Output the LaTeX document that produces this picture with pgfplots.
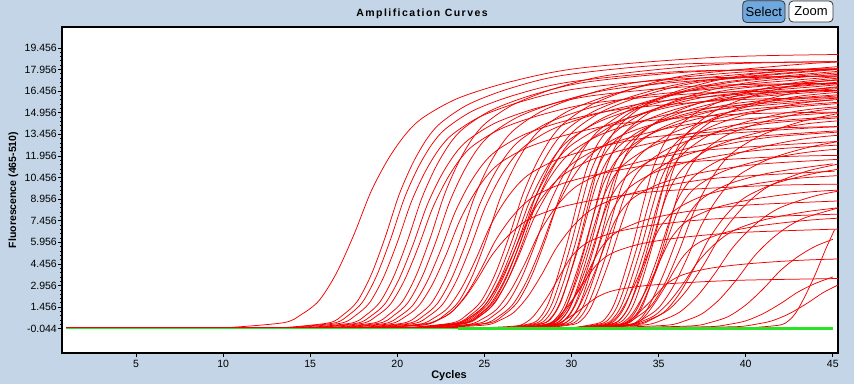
\documentclass[border=0pt]{standalone}
\usepackage{fontspec}
\setmainfont{Liberation Sans}
\newfontfamily\titlefont[LetterSpace=14]{Liberation Sans}
\usepackage{pgfplots}
\pgfplotsset{compat=1.18}
\definecolor{bgc}{RGB}{195,213,230}
\definecolor{rc}{RGB}{240,0,0}
\definecolor{gc}{RGB}{40,228,40}
\definecolor{selc}{RGB}{110,168,222}
\tikzset{r/.style={rc, line width=0.75pt, smooth}}
\begin{document}
\begin{tikzpicture}[x=1pt,y=1pt]
\fill[bgc] (-62,-31) rectangle (792,353);
\begin{axis}[at={(0,0)}, anchor=south west, scale only axis, width=776pt, height=326pt,
 xmin=0.75, xmax=45.3, ymin=-1.73, ymax=20.9,
 axis background/.style={fill=white},
 axis line style={line width=1.2pt},
 tick align=outside, xtick pos=bottom, ytick pos=left,
 major tick length=4pt, minor tick length=2pt,
 tick style={black, line width=0.6pt},
 xtick={5,10,15,20,25,30,35,40,45},
 xticklabels={5,10,15,20,25,30,35,40,45},
 ytick={-0.044,1.456,2.956,4.456,5.956,7.456,8.956,10.456,11.956,13.456,14.956,16.456,17.956,19.456},
 yticklabels={-0.044,1.456,2.956,4.456,5.956,7.456,8.956,10.456,11.956,13.456,14.956,16.456,17.956,19.456},
 minor y tick num=4,
 ticklabel style={font=\fontsize{10.5}{12}\selectfont, text=black},
 yticklabel style={inner xsep=1pt},
]
\addplot[rc, line width=0.75pt] coordinates {(1,.05)(45,.05)};
% early
\addplot[r] coordinates {(10.5,.05)(13.5,.38)(14.5,.95)(15.5,1.9)(16.5,3.8)(17.5,6.46)(18.5,9.5)(19.5,11.78)(20.5,13.49)(21.5,14.63)(23.5,15.96)(26.5,17.1)(30.5,18.05)(38.5,18.81)(46,19)};
\addplot[r] coordinates {(13.7,.05)(16.1,.37)(16.9,.93)(17.7,1.85)(18.5,3.7)(19.3,6.29)(20.1,9.25)(20.9,11.47)(21.7,13.14)(22.5,14.25)(24.1,15.54)(26.5,16.65)(29.7,17.58)(36.1,18.32)(46,18.5)};
\addplot[r] coordinates {(14,.05)(16.4,.36)(17.2,.9)(18,1.8)(18.8,3.6)(19.6,6.12)(20.4,9)(21.2,11.16)(22,12.78)(22.8,13.86)(24.4,15.12)(26.8,16.2)(30,17.1)(36.4,17.82)(46,18)};
\addplot[r] coordinates {(14.4,.05)(16.8,.35)(17.6,.88)(18.4,1.75)(19.2,3.5)(20,5.95)(20.8,8.75)(21.6,10.85)(22.4,12.43)(23.2,13.48)(24.8,14.7)(27.2,15.75)(30.4,16.63)(36.8,17.33)(46,17.5)};
\addplot[r] coordinates {(15,.05)(17.4,.36)(18.2,.9)(19,1.8)(19.8,3.6)(20.6,6.12)(21.4,9)(22.2,11.16)(23,12.78)(23.8,13.86)(25.4,15.12)(27.8,16.2)(31,17.1)(37.4,17.82)(46,18)};
\addplot[r] coordinates {(15.3,.05)(17.7,.34)(18.5,.85)(19.3,1.7)(20.1,3.4)(20.9,5.78)(21.7,8.5)(22.5,10.54)(23.3,12.07)(24.1,13.09)(25.7,14.28)(28.1,15.3)(31.3,16.15)(37.7,16.83)(46,17)};
\addplot[r] coordinates {(15.6,.05)(18,.33)(18.8,.83)(19.6,1.65)(20.4,3.3)(21.2,5.61)(22,8.25)(22.8,10.23)(23.6,11.72)(24.4,12.71)(26,13.86)(28.4,14.85)(31.6,15.68)(38,16.34)(46,16.5)};
\addplot[r] coordinates {(16.3,.05)(18.7,.37)(19.5,.93)(20.3,1.85)(21.1,3.7)(21.9,6.29)(22.7,9.25)(23.5,11.47)(24.3,13.14)(25.1,14.25)(26.7,15.54)(29.1,16.65)(32.3,17.58)(38.7,18.32)(46,18.5)};
\addplot[r] coordinates {(16.6,.05)(19,.35)(19.8,.88)(20.6,1.75)(21.4,3.5)(22.2,5.95)(23,8.75)(23.8,10.85)(24.6,12.43)(25.4,13.48)(27,14.7)(29.4,15.75)(32.6,16.63)(39,17.33)(46,17.5)};
\addplot[r] coordinates {(16.9,.05)(19.3,.32)(20.1,.8)(20.9,1.6)(21.7,3.2)(22.5,5.44)(23.3,8)(24.1,9.92)(24.9,11.36)(25.7,12.32)(27.3,13.44)(29.7,14.4)(32.9,15.2)(39.3,15.84)(46,16)};
\addplot[r] coordinates {(17.2,.05)(19.6,.3)(20.4,.75)(21.2,1.5)(22,3)(22.8,5.1)(23.6,7.5)(24.4,9.3)(25.2,10.65)(26,11.55)(27.6,12.6)(30,13.5)(33.2,14.25)(39.6,14.85)(46,15)};
\addplot[r] coordinates {(18,.05)(20.4,.36)(21.2,.9)(22,1.8)(22.8,3.6)(23.6,6.12)(24.4,9)(25.2,11.16)(26,12.78)(26.8,13.86)(28.4,15.12)(30.8,16.2)(34,17.1)(40.4,17.82)(46,18)};
\addplot[r] coordinates {(18.3,.05)(20.7,.34)(21.5,.85)(22.3,1.7)(23.1,3.4)(23.9,5.78)(24.7,8.5)(25.5,10.54)(26.3,12.07)(27.1,13.09)(28.7,14.28)(31.1,15.3)(34.3,16.15)(40.7,16.83)(46,17)};
\addplot[r] coordinates {(18.6,.05)(21,.33)(21.8,.83)(22.6,1.65)(23.4,3.3)(24.2,5.61)(25,8.25)(25.8,10.23)(26.6,11.72)(27.4,12.71)(29,13.86)(31.4,14.85)(34.6,15.68)(41,16.34)(46,16.5)};
\addplot[r] coordinates {(18.9,.05)(21.3,.28)(22.1,.7)(22.9,1.4)(23.7,2.8)(24.5,4.76)(25.3,7)(26.1,8.68)(26.9,9.94)(27.7,10.78)(29.3,11.76)(31.7,12.6)(34.9,13.3)(41.3,13.86)(46,14)};
\addplot[r] coordinates {(19.2,.05)(21.6,.24)(22.4,.6)(23.2,1.2)(24,2.4)(24.8,4.08)(25.6,6)(26.4,7.44)(27.2,8.52)(28,9.24)(29.6,10.08)(32,10.8)(35.2,11.4)(41.6,11.88)(46,12)};
\addplot[r] coordinates {(19.5,.05)(21.9,.36)(22.7,.9)(23.5,1.8)(24.3,3.6)(25.1,6.12)(25.9,9)(26.7,11.16)(27.5,12.78)(28.3,13.86)(29.9,15.12)(32.3,16.2)(35.5,17.1)(41.9,17.82)(46,18)};
\addplot[r] coordinates {(19,.05)(21.4,.2)(22.2,.5)(23,1)(23.8,2)(24.6,3.4)(25.4,5)(26.2,6.2)(27,7.1)(27.8,7.7)(29.4,8.4)(31.8,9)(35,9.5)(41.4,9.9)(46,10)};
% group around 27-29
\addplot[r] coordinates {(20.8,.05)(23.2,.37)(24,.93)(24.8,1.85)(25.6,3.7)(26.4,6.29)(27.2,9.25)(28,11.47)(28.8,13.14)(29.6,14.25)(31.2,15.54)(33.6,16.65)(36.8,17.58)(43.2,18.32)(46,18.5)};
\addplot[r] coordinates {(21,.05)(23.4,.36)(24.2,.9)(25,1.8)(25.8,3.6)(26.6,6.12)(27.4,9)(28.2,11.16)(29,12.78)(29.8,13.86)(31.4,15.12)(33.8,16.2)(37,17.1)(43.4,17.82)(46,18)};
\addplot[r] coordinates {(21.1,.05)(23.5,.34)(24.3,.85)(25.1,1.7)(25.9,3.4)(26.7,5.78)(27.5,8.5)(28.3,10.54)(29.1,12.07)(29.9,13.09)(31.5,14.28)(33.9,15.3)(37.1,16.15)(43.5,16.83)(46,17)};
\addplot[r] coordinates {(21.2,.05)(23.6,.33)(24.4,.83)(25.2,1.65)(26,3.3)(26.8,5.61)(27.6,8.25)(28.4,10.23)(29.2,11.72)(30,12.71)(31.6,13.86)(34,14.85)(37.2,15.68)(43.6,16.34)(46,16.5)};
\addplot[r] coordinates {(21.3,.05)(23.7,.32)(24.5,.8)(25.3,1.6)(26.1,3.2)(26.9,5.44)(27.7,8)(28.5,9.92)(29.3,11.36)(30.1,12.32)(31.7,13.44)(34.1,14.4)(37.3,15.2)(43.7,15.84)(46,16)};
\addplot[r] coordinates {(21.4,.05)(23.8,.3)(24.6,.75)(25.4,1.5)(26.2,3)(27,5.1)(27.8,7.5)(28.6,9.3)(29.4,10.65)(30.2,11.55)(31.8,12.6)(34.2,13.5)(37.4,14.25)(43.8,14.85)(46,15)};
\addplot[r] coordinates {(21.5,.05)(23.9,.36)(24.7,.9)(25.5,1.8)(26.3,3.6)(27.1,6.12)(27.9,9)(28.7,11.16)(29.5,12.78)(30.3,13.86)(31.9,15.12)(34.3,16.2)(37.5,17.1)(43.9,17.82)(46,18)};
\addplot[r] coordinates {(21.6,.05)(24,.35)(24.8,.88)(25.6,1.75)(26.4,3.5)(27.2,5.95)(28,8.75)(28.8,10.85)(29.6,12.43)(30.4,13.48)(32,14.7)(34.4,15.75)(37.6,16.63)(44,17.33)(46,17.5)};
\addplot[r] coordinates {(20.9,.05)(23.3,.28)(24.1,.7)(24.9,1.4)(25.7,2.8)(26.5,4.76)(27.3,7)(28.1,8.68)(28.9,9.94)(29.7,10.78)(31.3,11.76)(33.7,12.6)(36.9,13.3)(43.3,13.86)(46,14)};
\addplot[r] coordinates {(21.7,.05)(24.1,.26)(24.9,.65)(25.7,1.3)(26.5,2.6)(27.3,4.42)(28.1,6.5)(28.9,8.06)(29.7,9.23)(30.5,10.01)(32.1,10.92)(34.5,11.7)(37.7,12.35)(44.1,12.87)(46,13)};
\addplot[r] coordinates {(22.3,.05)(24.7,.34)(25.5,.85)(26.3,1.7)(27.1,3.4)(27.9,5.78)(28.7,8.5)(29.5,10.54)(30.3,12.07)(31.1,13.09)(32.7,14.28)(35.1,15.3)(38.3,16.15)(44.7,16.83)(46,17)};
\addplot[r] coordinates {(22.6,.05)(25,.32)(25.8,.8)(26.6,1.6)(27.4,3.2)(28.2,5.44)(29,8)(29.8,9.92)(30.6,11.36)(31.4,12.32)(33,13.44)(35.4,14.4)(38.6,15.2)(45,15.84)};
\addplot[r] coordinates {(22.9,.05)(25.3,.36)(26.1,.9)(26.9,1.8)(27.7,3.6)(28.5,6.12)(29.3,9)(30.1,11.16)(30.9,12.78)(31.7,13.86)(33.3,15.12)(35.7,16.2)(38.9,17.1)(45.3,17.82)};
\addplot[r] coordinates {(22.7,.05)(25.1,.22)(25.9,.55)(26.7,1.1)(27.5,2.2)(28.3,3.74)(29.1,5.5)(29.9,6.82)(30.7,7.81)(31.5,8.47)(33.1,9.24)(35.5,9.9)(38.7,10.45)(45.1,10.89)};
% dense group around 30-33
\addplot[r] coordinates {(26.4,.05)(27.8,.36)(28.3,.9)(28.7,1.8)(29.2,3.6)(29.8,6.12)(30.4,9)(30.9,11.16)(31.5,12.78)(32.2,13.86)(33.6,15.12)(35.9,16.2)(39.4,17.1)(46.4,17.82)};
\addplot[r] coordinates {(26.6,.05)(28,.35)(28.5,.88)(28.9,1.75)(29.4,3.5)(30,5.95)(30.6,8.75)(31.1,10.85)(31.7,12.43)(32.4,13.48)(33.8,14.7)(36.1,15.75)(39.6,16.63)(46.6,17.33)};
\addplot[r] coordinates {(26.8,.05)(28.2,.34)(28.7,.85)(29.1,1.7)(29.6,3.4)(30.2,5.78)(30.8,8.5)(31.3,10.54)(31.9,12.07)(32.6,13.09)(34,14.28)(36.3,15.3)(39.8,16.15)(46.8,16.83)};
\addplot[r] coordinates {(27,.05)(28.4,.33)(28.9,.83)(29.3,1.65)(29.8,3.3)(30.4,5.61)(31,8.25)(31.5,10.23)(32.1,11.72)(32.8,12.71)(34.2,13.86)(36.5,14.85)(40,15.68)(47,16.34)};
\addplot[r] coordinates {(27.1,.05)(28.5,.37)(29,.93)(29.4,1.85)(29.9,3.7)(30.5,6.29)(31.1,9.25)(31.6,11.47)(32.2,13.14)(32.9,14.25)(34.3,15.54)(36.6,16.65)(40.1,17.58)(47.1,18.32)};
\addplot[r] coordinates {(27.3,.05)(28.7,.32)(29.2,.8)(29.6,1.6)(30.1,3.2)(30.7,5.44)(31.3,8)(31.8,9.92)(32.4,11.36)(33.1,12.32)(34.5,13.44)(36.8,14.4)(40.3,15.2)(47.3,15.84)};
\addplot[r] coordinates {(27.4,.05)(28.8,.3)(29.3,.75)(29.7,1.5)(30.2,3)(30.8,5.1)(31.4,7.5)(31.9,9.3)(32.5,10.65)(33.2,11.55)(34.6,12.6)(36.9,13.5)(40.4,14.25)(47.4,14.85)};
\addplot[r] coordinates {(27.5,.05)(28.9,.36)(29.4,.9)(29.8,1.8)(30.3,3.6)(30.9,6.12)(31.5,9)(32,11.16)(32.6,12.78)(33.3,13.86)(34.7,15.12)(37,16.2)(40.5,17.1)(47.5,17.82)};
\addplot[r] coordinates {(27.6,.05)(29,.28)(29.5,.7)(29.9,1.4)(30.4,2.8)(31,4.76)(31.6,7)(32.1,8.68)(32.7,9.94)(33.4,10.78)(34.8,11.76)(37.1,12.6)(40.6,13.3)(47.6,13.86)};
\addplot[r] coordinates {(27.7,.05)(29.1,.34)(29.6,.85)(30,1.7)(30.5,3.4)(31.1,5.78)(31.7,8.5)(32.2,10.54)(32.8,12.07)(33.5,13.09)(34.9,14.28)(37.2,15.3)(40.7,16.15)(47.7,16.83)};
\addplot[r] coordinates {(27.8,.05)(29.2,.26)(29.7,.65)(30.1,1.3)(30.6,2.6)(31.2,4.42)(31.8,6.5)(32.3,8.06)(32.9,9.23)(33.6,10.01)(35,10.92)(37.3,11.7)(40.8,12.35)(47.8,12.87)};
\addplot[r] coordinates {(27.9,.05)(29.3,.33)(29.8,.83)(30.2,1.65)(30.7,3.3)(31.3,5.61)(31.9,8.25)(32.4,10.23)(33,11.72)(33.7,12.71)(35.1,13.86)(37.4,14.85)(40.9,15.68)(47.9,16.34)};
\addplot[r] coordinates {(28,.05)(29.4,.24)(29.9,.6)(30.3,1.2)(30.8,2.4)(31.4,4.08)(32,6)(32.5,7.44)(33.1,8.52)(33.8,9.24)(35.2,10.08)(37.5,10.8)(41,11.4)(48,11.88)};
\addplot[r] coordinates {(28.2,.05)(29.6,.35)(30.1,.88)(30.5,1.75)(31,3.5)(31.6,5.95)(32.2,8.75)(32.7,10.85)(33.3,12.43)(34,13.48)(35.4,14.7)(37.7,15.75)(41.2,16.63)(48.2,17.33)};
\addplot[r] coordinates {(28.4,.05)(29.8,.32)(30.3,.8)(30.7,1.6)(31.2,3.2)(31.8,5.44)(32.4,8)(32.9,9.92)(33.5,11.36)(34.2,12.32)(35.6,13.44)(37.9,14.4)(41.4,15.2)(48.4,15.84)};
\addplot[r] coordinates {(28.6,.05)(30,.3)(30.5,.75)(30.9,1.5)(31.4,3)(32,5.1)(32.6,7.5)(33.1,9.3)(33.7,10.65)(34.4,11.55)(35.8,12.6)(38.1,13.5)(41.6,14.25)(48.6,14.85)};
\addplot[r] coordinates {(28.8,.05)(30.2,.28)(30.7,.7)(31.1,1.4)(31.6,2.8)(32.2,4.76)(32.8,7)(33.3,8.68)(33.9,9.94)(34.6,10.78)(36,11.76)(38.3,12.6)(41.8,13.3)(48.8,13.86)};
\addplot[r] coordinates {(27.2,.05)(28.6,.18)(29.1,.45)(29.5,.9)(30,1.8)(30.6,3.06)(31.2,4.5)(31.7,5.58)(32.3,6.39)(33,6.93)(34.4,7.56)(36.7,8.1)(40.2,8.55)(47.2,8.91)};
\addplot[r] coordinates {(26.9,.05)(28.3,.14)(28.8,.35)(29.2,.7)(29.7,1.4)(30.3,2.38)(30.9,3.5)(31.4,4.34)(32,4.97)(32.7,5.39)(34.1,5.88)(36.4,6.3)(39.9,6.65)(46.9,6.93)};
% group around 34-36
\addplot[r] coordinates {(30.2,.05)(31.6,.36)(32.1,.9)(32.5,1.8)(33,3.6)(33.6,6.12)(34.2,9)(34.7,11.16)(35.3,12.78)(36,13.86)(37.4,15.12)(39.7,16.2)(43.2,17.1)(50.2,17.82)};
\addplot[r] coordinates {(30.4,.05)(31.8,.34)(32.3,.85)(32.7,1.7)(33.2,3.4)(33.8,5.78)(34.4,8.5)(34.9,10.54)(35.5,12.07)(36.2,13.09)(37.6,14.28)(39.9,15.3)(43.4,16.15)(50.4,16.83)};
\addplot[r] coordinates {(30.6,.05)(32,.33)(32.5,.83)(32.9,1.65)(33.4,3.3)(34,5.61)(34.6,8.25)(35.1,10.23)(35.7,11.72)(36.4,12.71)(37.8,13.86)(40.1,14.85)(43.6,15.68)(50.6,16.34)};
\addplot[r] coordinates {(30.8,.05)(32.2,.32)(32.7,.8)(33.1,1.6)(33.6,3.2)(34.2,5.44)(34.8,8)(35.3,9.92)(35.9,11.36)(36.6,12.32)(38,13.44)(40.3,14.4)(43.8,15.2)(50.8,15.84)};
\addplot[r] coordinates {(31,.05)(32.4,.3)(32.9,.75)(33.3,1.5)(33.8,3)(34.4,5.1)(35,7.5)(35.5,9.3)(36.1,10.65)(36.8,11.55)(38.2,12.6)(40.5,13.5)(44,14.25)(51,14.85)};
\addplot[r] coordinates {(31.1,.05)(32.5,.36)(33,.9)(33.4,1.8)(33.9,3.6)(34.5,6.12)(35.1,9)(35.6,11.16)(36.2,12.78)(36.9,13.86)(38.3,15.12)(40.6,16.2)(44.1,17.1)(51.1,17.82)};
\addplot[r] coordinates {(31.3,.05)(32.7,.35)(33.2,.88)(33.6,1.75)(34.1,3.5)(34.7,5.95)(35.3,8.75)(35.8,10.85)(36.4,12.43)(37.1,13.48)(38.5,14.7)(40.8,15.75)(44.3,16.63)(51.3,17.33)};
\addplot[r] coordinates {(31.5,.05)(32.9,.28)(33.4,.7)(33.8,1.4)(34.3,2.8)(34.9,4.76)(35.5,7)(36,8.68)(36.6,9.94)(37.3,10.78)(38.7,11.76)(41,12.6)(44.5,13.3)(51.5,13.86)};
\addplot[r] coordinates {(31.6,.05)(33,.26)(33.5,.65)(33.9,1.3)(34.4,2.6)(35,4.42)(35.6,6.5)(36.1,8.06)(36.7,9.23)(37.4,10.01)(38.8,10.92)(41.1,11.7)(44.6,12.35)(51.6,12.87)};
\addplot[r] coordinates {(31.8,.05)(33.2,.32)(33.7,.8)(34.1,1.6)(34.6,3.2)(35.2,5.44)(35.8,8)(36.3,9.92)(36.9,11.36)(37.6,12.32)(39,13.44)(41.3,14.4)(44.8,15.2)(51.8,15.84)};
\addplot[r] coordinates {(32,.05)(33.4,.24)(33.9,.6)(34.3,1.2)(34.8,2.4)(35.4,4.08)(36,6)(36.5,7.44)(37.1,8.52)(37.8,9.24)(39.2,10.08)(41.5,10.8)(45,11.4)};
\addplot[r] coordinates {(30.5,.05)(31.9,.22)(32.4,.55)(32.8,1.1)(33.3,2.2)(33.9,3.74)(34.5,5.5)(35,6.82)(35.6,7.81)(36.3,8.47)(37.7,9.24)(40,9.9)(43.5,10.45)(50.5,10.89)};
\addplot[r] coordinates {(31.2,.05)(32.6,.2)(33.1,.5)(33.5,1)(34,2)(34.6,3.4)(35.2,5)(35.7,6.2)(36.3,7.1)(37,7.7)(38.4,8.4)(40.7,9)(44.2,9.5)(51.2,9.9)};
\addplot[r] coordinates {(31.9,.05)(33.3,.16)(33.8,.4)(34.2,.8)(34.7,1.6)(35.3,2.72)(35.9,4)(36.4,4.96)(37,5.68)(37.7,6.16)(39.1,6.72)(41.4,7.2)(44.9,7.6)(51.9,7.92)};
% late
\addplot[r] coordinates {(30.6,.05)(33,.32)(33.8,.8)(34.6,1.6)(35.4,3.2)(36.2,5.44)(37,8)(37.8,9.92)(38.6,11.36)(39.4,12.32)(41,13.44)(43.4,14.4)(46.6,15.2)};
\addplot[r] coordinates {(31,.05)(33.4,.28)(34.2,.7)(35,1.4)(35.8,2.8)(36.6,4.76)(37.4,7)(38.2,8.68)(39,9.94)(39.8,10.78)(41.4,11.76)(43.8,12.6)(47,13.3)};
\addplot[r] coordinates {(31.4,.05)(33.8,.24)(34.6,.6)(35.4,1.2)(36.2,2.4)(37,4.08)(37.8,6)(38.6,7.44)(39.4,8.52)(40.2,9.24)(41.8,10.08)(44.2,10.8)(47.4,11.4)};
\addplot[r] coordinates {(30.8,.05)(33.2,.18)(34,.45)(34.8,.9)(35.6,1.8)(36.4,3.06)(37.2,4.5)(38,5.58)(38.8,6.39)(39.6,6.93)(41.2,7.56)(43.6,8.1)(46.8,8.55)};
\addplot[r] coordinates {(30.6,.05)(33.6,.26)(34.6,.65)(35.6,1.3)(36.6,2.6)(37.6,4.42)(38.6,6.5)(39.6,8.06)(40.6,9.23)(41.6,10.01)(43.6,10.92)(46.6,11.7)};
\addplot[r] coordinates {(31.2,.05)(34.2,.22)(35.2,.55)(36.2,1.1)(37.2,2.2)(38.2,3.74)(39.2,5.5)(40.2,6.82)(41.2,7.81)(42.2,8.47)(44.2,9.24)(47.2,9.9)};
\addplot[r] coordinates {(32.5,.05)(35.5,.2)(36.5,.5)(37.5,1)(38.5,2)(39.5,3.4)(40.5,5)(41.5,6.2)(42.5,7.1)(43.5,7.7)(45.5,8.4)};
\addplot[r] coordinates {(34,.05)(37,.16)(38,.4)(39,.8)(40,1.6)(41,2.72)(42,4)(43,4.96)(44,5.68)(45,6.16)};
\addplot[r] coordinates {(40.6,.05)(42,.22)(42.5,.55)(42.9,1.1)(43.4,2.2)(44,3.74)(44.6,5.5)(45.1,6.82)};
\addplot[r] coordinates {(35,.05)(38,.1)(39,.25)(40,.5)(41,1)(42,1.7)(43,2.5)(44,3.1)(45,3.55)};
\addplot[r] coordinates {(36.5,.05)(39.5,.1)(40.5,.25)(41.5,.5)(42.5,1)(43.5,1.7)(44.5,2.5)(45.5,3.1)};
% low plateaus
\addplot[r] coordinates {(27,.05)(28.4,.07)(28.9,.18)(29.3,.35)(29.8,.7)(30.4,1.19)(31,1.75)(31.5,2.17)(32.1,2.49)(32.8,2.7)(34.2,2.94)(36.5,3.15)(40,3.33)(47,3.47)};
\addplot[r] coordinates {(31,.05)(32.4,.1)(32.9,.25)(33.3,.5)(33.8,1)(34.4,1.7)(35,2.5)(35.5,3.1)(36.1,3.55)(36.8,3.85)(38.2,4.2)(40.5,4.5)(44,4.75)(51,4.95)};
\addplot[r] coordinates {(25.5,.05)(26.9,.16)(27.4,.4)(27.8,.8)(28.3,1.6)(28.9,2.72)(29.5,4)(30,4.96)(30.6,5.68)(31.3,6.16)(32.7,6.72)(35,7.2)(38.5,7.6)(45.5,7.92)};
% negative control
\addplot[gc, line width=1.5pt] coordinates {(1,-0.044)(45,-0.044)};
\addplot[gc, line width=3.5pt] coordinates {(23.5,-0.044)(45,-0.044)};
\end{axis}
\node[font={\titlefont\fontsize{10.5}{12}\selectfont\bfseries}] at (360,339.5) {Amplification Curves};
\node[rotate=90, font=\bfseries\fontsize{10.5}{12}\selectfont] at (-48.5,163) {Fluorescence (465-510)};
\node[font=\bfseries\fontsize{11}{13}\selectfont] at (387,-23) {Cycles};
\draw[rounded corners=4pt, fill=selc, draw=black!80, line width=0.8pt] (680.7,330.5) rectangle (723,352.3);
\node[font=\fontsize{13}{14}\selectfont] at (701.8,341.4) {Select};
\draw[rounded corners=4pt, fill=white, draw=black!80, line width=0.8pt] (727,331) rectangle (771,352);
\node[font=\fontsize{13}{14}\selectfont] at (749,341.5) {Zoom};
\pgfresetboundingbox
\path (-62,-31) rectangle (792,353);
\end{tikzpicture}
\end{document}
